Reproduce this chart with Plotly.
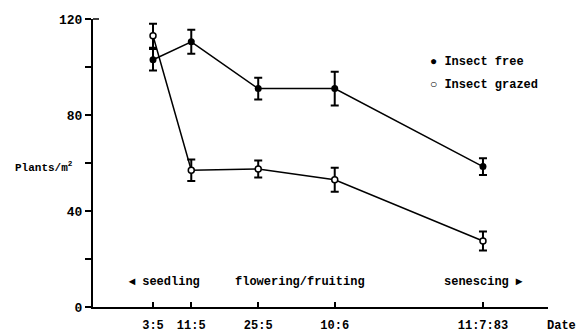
import plotly.graph_objects as go

# Sampling dates (day of year, 1983) and labels
dates = ["3:5", "11:5", "25:5", "10:6", "11:7:83"]
day_of_year = [123, 131, 145, 161, 192]

free_vals = [103, 110.5, 91, 91, 58.5]
free_err = [4.5, 5, 4.5, 7, 3.5]
grazed_vals = [113, 57, 57.5, 53, 27.5]
grazed_err = [5, 4.5, 3.5, 5, 4]

y_ticks = [0, 20, 40, 60, 80, 100, 120]
y_labels = ["0", "", "40", "", "80", "", "120"]

FONT = "Liberation Mono"

fig = go.Figure()
fig.add_trace(go.Scatter(
    x=day_of_year, y=free_vals, mode="lines+markers",
    error_y=dict(type="data", array=free_err, color="black", thickness=2, width=4),
    line=dict(color="black", width=1.5),
    marker=dict(symbol="circle", size=7, color="black"),
    showlegend=False))
fig.add_trace(go.Scatter(
    x=day_of_year, y=grazed_vals, mode="lines+markers",
    error_y=dict(type="data", array=grazed_err, color="black", thickness=2, width=4),
    line=dict(color="black", width=1.5),
    marker=dict(symbol="circle", size=6, color="white", line=dict(color="black", width=1.5)),
    showlegend=False))

fig.update_layout(
    width=576, height=333,
    margin=dict(l=93, r=28, t=19, b=26),
    plot_bgcolor="white", paper_bgcolor="white",
    xaxis=dict(range=[110.45, 205.6], tickvals=day_of_year, ticktext=["<b>%s</b>" % d for d in dates],
               ticks="inside", ticklen=5, tickwidth=1.5, tickcolor="black",
               showline=True, linecolor="black", linewidth=2, showgrid=False, zeroline=False,
               ticklabelstandoff=6, automargin=False,
               tickfont=dict(family=FONT, size=12, color="black")),
    yaxis=dict(range=[0, 120], tickmode="array", tickvals=y_ticks,
               ticktext=["<b>%s</b>" % t if t else "" for t in y_labels],
               ticks="outside", ticklen=6, tickwidth=1.5, tickcolor="black",
               showline=True, linecolor="black", linewidth=2, showgrid=False, zeroline=False,
               automargin=False,
               tickfont=dict(family=FONT, size=13, color="black")),
    showlegend=False,
)

# annotation placed by pixel position of the full figure
def fa(x, y, text, xanchor="left", size=12):
    fig.add_annotation(x=(x - 93) / (576 - 93 - 28), y=(307 - y) / (307 - 19),
                       xref="paper", yref="paper", text=text, showarrow=False,
                       xanchor=xanchor, yanchor="middle",
                       font=dict(family=FONT, size=size, color="black"))

fa(44, 167, "<b>Plants/m<sup>2</sup></b>", "center", 11)
fa(561, 326, "<b>Date</b>", "center", 12)
fa(126, 282, "<b>◂ seedling</b>", "left", 12)
fa(300, 282, "<b>flowering/fruiting</b>", "center", 12)
fa(442, 282, "<b>senescing ▸</b>", "left", 12)
fa(428, 62, "<b>● Insect free</b>", "left", 12)
fa(428, 85, "<b>○ Insect grazed</b>", "left", 12)

# small cap at top of y axis
fig.add_shape(type="line", xref="paper", yref="paper", x0=0, x1=6 / 455, y0=1, y1=1,
              line=dict(color="black", width=1.5))

fig.write_html("out.html")
